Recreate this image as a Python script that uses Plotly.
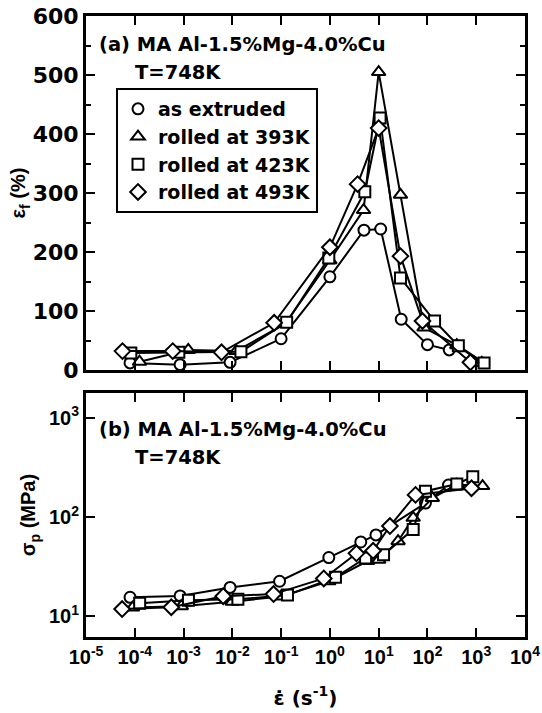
import plotly.graph_objects as go

# ---------------- Panel (a): elongation to failure (%) ----------------
ext_rate_a = [8e-5, 8.5e-4, 9e-3, 0.1, 1.0, 5.0, 11, 29, 100, 280]
ext_elong_a = [12, 9, 13, 53, 158, 237, 239, 86, 43, 34]

r393_rate_a = [1.25e-4, 1.25e-3, 1.2e-2, 0.12, 1.0, 4.9, 10, 28, 85, 400, 1300]
r393_elong_a = [14, 34, 32, 78, 186, 271, 505, 297, 72, 42, 12]

r423_rate_a = [8.3e-5, 8e-4, 0.015, 0.13, 0.95, 5.2, 10.7, 28, 140, 430, 1450]
r423_elong_a = [29, 30, 31, 81, 190, 302, 427, 156, 83, 41, 12]

r493_rate_a = [5.6e-5, 6e-4, 6e-3, 0.072, 1.0, 3.7, 10, 28, 79, 760]
r493_elong_a = [32, 32, 30, 80, 208, 315, 410, 193, 83, 13]

# ---------------- Panel (b): peak stress (MPa) ----------------
ext_rate_b = [8e-5, 8.5e-4, 9e-3, 0.093, 0.95, 4.3, 8.8, 91, 270]
ext_stress_b = [15.5, 16, 19.5, 22.5, 39, 56, 66, 138, 210]

r393_rate_b = [9e-5, 9e-4, 1e-2, 0.1, 0.95, 5.9, 10, 25, 51, 126, 400, 1350]
r393_stress_b = [12.2, 12.6, 14, 15.8, 22.5, 36, 37, 57, 98, 155, 212, 205]

r423_rate_b = [1.26e-4, 1.26e-3, 0.013, 0.135, 1.3, 5.4, 12.6, 51, 91, 400, 850]
r423_stress_b = [13.5, 14.5, 14.8, 16.3, 24.7, 38.6, 41.5, 75, 182, 215, 255]

r493_rate_b = [5.5e-5, 5.6e-4, 6.5e-3, 0.07, 0.75, 3.5, 7.7, 17, 57, 800]
r493_stress_b = [11.8, 12.3, 15.9, 16.7, 24, 43, 45.6, 81, 167, 195]

series_names = ["as extruded", "rolled at 393K", "rolled at 423K", "rolled at 493K"]
symbols = ["circle", "triangle-up", "square", "diamond"]
sizes = [11, 12, 11, 12]

x_tick_vals = [1e-5, 1e-4, 1e-3, 1e-2, 1e-1, 1, 10, 100, 1000, 10000]
x_tick_text = ["10<sup>-5</sup>", "10<sup>-4</sup>", "10<sup>-3</sup>", "10<sup>-2</sup>",
               "10<sup>-1</sup>", "10<sup>0</sup>", "10<sup>1</sup>", "10<sup>2</sup>",
               "10<sup>3</sup>", "10<sup>4</sup>"]
ya_tick_vals = [0, 100, 200, 300, 400, 500, 600]
ya_minor_vals = [50, 150, 250, 350, 450, 550]
yb_tick_vals = [10, 100, 1000]
yb_tick_text = ["10<sup>1</sup>", "10<sup>2</sup>", "10<sup>3</sup>"]

data_a = [(ext_rate_a, ext_elong_a), (r393_rate_a, r393_elong_a),
          (r423_rate_a, r423_elong_a), (r493_rate_a, r493_elong_a)]
data_b = [(ext_rate_b, ext_stress_b), (r393_rate_b, r393_stress_b),
          (r423_rate_b, r423_stress_b), (r493_rate_b, r493_stress_b)]

fig = go.Figure()

def add_series(x, y, name, sym, sz, xa, ya, legend):
    fig.add_trace(go.Scatter(x=x, y=y, mode="lines", xaxis=xa, yaxis=ya,
                             line=dict(color="black", width=2),
                             showlegend=False, hoverinfo="skip"))
    fig.add_trace(go.Scatter(x=x, y=y, mode="markers", name=name, xaxis=xa, yaxis=ya,
                             marker=dict(symbol=sym, size=sz, color="white",
                                         line=dict(color="black", width=2)),
                             showlegend=legend))

for (x, y), nm, sym, sz in zip(data_a, series_names, symbols, sizes):
    add_series(x, y, nm, sym, sz, "x", "y", True)
for (x, y), nm, sym, sz in zip(data_b, series_names, symbols, sizes):
    add_series(x, y, nm, sym, sz, "x2", "y2", False)

BOLD_DV = dict(family="DejaVu Sans", color="black", weight="bold")
BOLD_LS = dict(family="Liberation Sans, Arial", color="black", weight="bold")

axis_common = dict(showline=True, linewidth=3, linecolor="black", mirror="ticks",
                   ticks="inside", tickwidth=2, tickcolor="black",
                   showgrid=False, zeroline=False, automargin=False)

L, R, T, B = 86, 17, 16, 76
W, H = 542, 713
PH = H - T - B
PW = W - L - R

def py(p):
    return (H - B - p) / PH

def px(p):
    return (p - L) / PW

fig.update_layout(
    width=W, height=H,
    margin=dict(l=L, r=R, t=T, b=B),
    paper_bgcolor="white", plot_bgcolor="white",
    xaxis=dict(type="log", range=[-5, 4], domain=[0, 1], anchor="y",
               tickvals=x_tick_vals, showticklabels=False, ticklen=9, **axis_common),
    yaxis=dict(range=[0, 600], domain=[py(370), 1], anchor="x",
               tickvals=ya_tick_vals, ticklen=9,
               tickfont=dict(size=22, **BOLD_DV), ticklabelstandoff=0,
               minor=dict(tickvals=ya_minor_vals, ticks="inside",
                          ticklen=5, tickwidth=2, tickcolor="black", showgrid=False),
               title=dict(text="ε<sub>f</sub> (%)", font=dict(size=20, **BOLD_LS), standoff=0),
               **axis_common),
    xaxis2=dict(type="log", range=[-5, 4], domain=[0, 1], anchor="y2",
                tickvals=x_tick_vals, ticktext=x_tick_text, ticklen=9,
                tickfont=dict(size=20, **BOLD_LS), ticklabelstandoff=0,
                title=dict(text="ε̇ (s<sup>-1</sup>)", font=dict(size=20, **BOLD_DV), standoff=24),
                **axis_common),
    yaxis2=dict(type="log", range=[0.79, 3.25], domain=[0, py(393)], anchor="x2",
                tickvals=yb_tick_vals, ticktext=yb_tick_text, ticklen=9,
                tickfont=dict(size=20, **BOLD_LS), ticklabelstandoff=0,
                title=dict(text="σ<sub>p</sub> (MPa)", font=dict(size=20, **BOLD_LS), standoff=8),
                **axis_common),
    legend=dict(x=px(116), y=py(88), xanchor="left", yanchor="top",
                bordercolor="black", borderwidth=2, bgcolor="white",
                font=dict(size=19, **BOLD_DV), tracegroupgap=0),
    annotations=[
        dict(text="(a) MA Al-1.5%Mg-4.0%Cu", x=px(97), y=py(45), xref="paper", yref="paper",
             xanchor="left", yanchor="middle", showarrow=False, font=dict(size=19.5, **BOLD_DV)),
        dict(text="T=748K", x=px(133), y=py(73), xref="paper", yref="paper",
             xanchor="left", yanchor="middle", showarrow=False, font=dict(size=19.5, **BOLD_DV)),
        dict(text="(b) MA Al-1.5%Mg-4.0%Cu", x=px(97), y=py(429), xref="paper", yref="paper",
             xanchor="left", yanchor="middle", showarrow=False, font=dict(size=19.5, **BOLD_DV)),
        dict(text="T=748K", x=px(133), y=py(457), xref="paper", yref="paper",
             xanchor="left", yanchor="middle", showarrow=False, font=dict(size=19.5, **BOLD_DV)),
    ],
)

fig.write_html("out.html")
